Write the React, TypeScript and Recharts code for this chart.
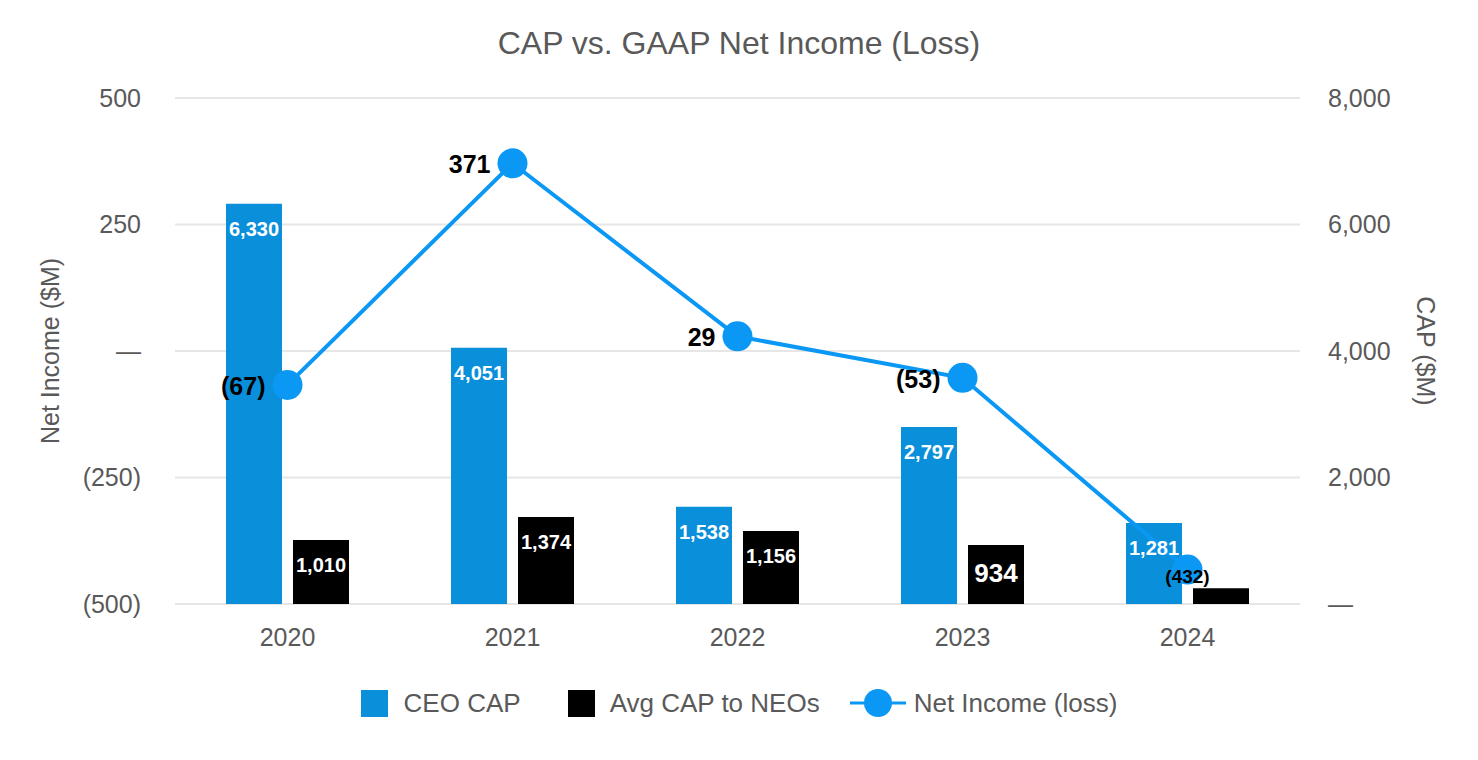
import React from "react";
import { ComposedChart, Bar, Line, XAxis, YAxis, CartesianGrid, LabelList } from "recharts";

const years = ["2020", "2021", "2022", "2023", "2024"];
const ceoCap = [6330, 4051, 1538, 2797, 1281];
const avgCap = [1010, 1374, 1156, 934, 250];
const netIncome = [-67, 371, 29, -53, -432];
const leftTicks = [-500, -250, 0, 250, 500];
const rightTicks = [0, 2000, 4000, 6000, 8000];

const data = years.map((year, i) => ({ year, ceo: ceoCap[i], avg: avgCap[i], ni: netIncome[i] }));

const FONT = '"Liberation Sans", Arial, sans-serif';
const GREY = "#595959";
const BAR_BLUE = "#0A8FDA";
const LINE_BLUE = "#0B98F5";

const fmtLeft = (v: number) => (v === 0 ? "—" : v < 0 ? `(${Math.abs(v)})` : `${v}`);
const fmtRight = (v: number) => (v === 0 ? "—" : v.toLocaleString("en-US"));
const fmtNi = (v: number) => (v < 0 ? `(${Math.abs(v)})` : `${v}`);

const barLabel = (props: any) => {
    const { x, y, width, value } = props;
    const big = value === 934;
    const size = big ? 26 : 20;
    return (
        <text x={x + width / 2} y={y + 16 + size * 0.8} textAnchor="middle" fill="#fff"
            fontWeight={700} fontSize={size} fontFamily={FONT}>
            {Number(value).toLocaleString("en-US")}
        </text>
    );
};

const lineLabel = (props: any) => {
    const { x, y, value, index } = props;
    if (index === netIncome.length - 1) {
        return (
            <text x={x} y={y + 13} textAnchor="middle" fill="#000" fontWeight={700} fontSize={19} fontFamily={FONT}>
                {fmtNi(value)}
            </text>
        );
    }
    return (
        <text x={x - 22} y={y + 10} textAnchor="end" fill="#000" fontWeight={700} fontSize={25} fontFamily={FONT}>
            {fmtNi(value)}
        </text>
    );
};

export default function App() {
    return (
        <div style={{ position: "relative", width: 1478, height: 760, background: "#fff", fontFamily: FONT }}>
            <style>{"body{margin:0}"}</style>
            <div style={{ position: "absolute", top: 25, left: 0, width: 1478, textAlign: "center", fontSize: 32, color: GREY }}>
                CAP vs. GAAP Net Income (Loss)
            </div>
            <ComposedChart width={1478} height={760} data={data} barSize={56} barGap={11}
                margin={{ top: 98, right: 0, bottom: 106, left: 0 }}>
                <CartesianGrid yAxisId="left" vertical={false} stroke="#e6e6e6" strokeWidth={2} />
                <XAxis dataKey="year" axisLine={false} tickLine={false} tickSize={0} tickMargin={24} height={50}
                    tick={{ fill: GREY, fontSize: 25, fontFamily: FONT }} />
                <YAxis yAxisId="left" domain={[-500, 500]} ticks={leftTicks} width={175} axisLine={false}
                    tickLine={false} tickSize={0} tickMargin={34} tickFormatter={fmtLeft}
                    tick={{ fill: GREY, fontSize: 25, fontFamily: FONT }}
                    label={{
                        content: (p: any) => {
                            const cy = p.viewBox.y + p.viewBox.height / 2;
                            return (
                                <text x={52} y={cy} transform={`rotate(-90, 52, ${cy})`} textAnchor="middle"
                                    dominantBaseline="middle" fill={GREY} fontSize={25} fontFamily={FONT}>
                                    Net Income ($M)
                                </text>
                            );
                        },
                    }} />
                <YAxis yAxisId="right" orientation="right" domain={[0, 8000]} ticks={rightTicks} width={178}
                    axisLine={false} tickLine={false} tickSize={0} tickMargin={28} tickFormatter={fmtRight}
                    tick={{ fill: GREY, fontSize: 25, fontFamily: FONT }}
                    label={{
                        content: (p: any) => {
                            const cy = p.viewBox.y + p.viewBox.height / 2;
                            return (
                                <text x={1424} y={cy} transform={`rotate(90, 1424, ${cy})`} textAnchor="middle"
                                    dominantBaseline="middle" fill={GREY} fontSize={25} fontFamily={FONT}>
                                    CAP ($M)
                                </text>
                            );
                        },
                    }} />
                <Bar yAxisId="right" dataKey="ceo" fill={BAR_BLUE} isAnimationActive={false}>
                    <LabelList dataKey="ceo" content={barLabel} />
                </Bar>
                <Bar yAxisId="right" dataKey="avg" fill="#000" isAnimationActive={false}>
                    <LabelList dataKey="avg" content={barLabel} />
                </Bar>
                <Line yAxisId="left" dataKey="ni" stroke={LINE_BLUE} strokeWidth={4} isAnimationActive={false}
                    dot={{ r: 15, fill: LINE_BLUE, stroke: LINE_BLUE, strokeWidth: 0 }} activeDot={false}>
                    <LabelList dataKey="ni" content={lineLabel} />
                </Line>
            </ComposedChart>
            <div style={{ position: "absolute", top: 687, left: 0, width: 1478, display: "flex", justifyContent: "center",
                alignItems: "center", fontSize: 26, color: GREY }}>
                <span style={{ width: 27, height: 27, background: BAR_BLUE, display: "inline-block", marginRight: 16 }} />
                <span style={{ marginRight: 47 }}>CEO CAP</span>
                <span style={{ width: 27, height: 27, background: "#000", display: "inline-block", marginRight: 15 }} />
                <span style={{ marginRight: 30 }}>Avg CAP to NEOs</span>
                <svg width={56} height={32} style={{ marginRight: 8 }}>
                    <line x1={0} y1={16} x2={56} y2={16} stroke={LINE_BLUE} strokeWidth={3} />
                    <circle cx={28} cy={16} r={14} fill={LINE_BLUE} />
                </svg>
                <span>Net Income (loss)</span>
            </div>
        </div>
    );
}
